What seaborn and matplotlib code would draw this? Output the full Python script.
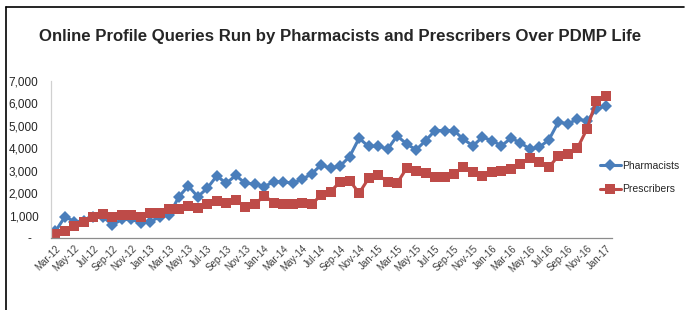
import matplotlib
matplotlib.use("Agg")
import matplotlib.pyplot as plt
from matplotlib.lines import Line2D
import seaborn as sns
import pandas as pd

# monthly values, Mar-12 .. Jan-17
months = pd.date_range("2012-03-01", periods=59, freq="MS").strftime("%b-%y").tolist()

pharmacists = [300, 950, 730, 750, 950, 950, 580, 830, 830, 680,
               730, 950, 1030, 1840, 2320, 1840, 2220, 2770, 2440, 2790,
               2440, 2410, 2290, 2510, 2510, 2440, 2620, 2860, 3260, 3110,
               3210, 3630, 4450, 4080, 4110, 3960, 4550, 4200, 3930, 4340,
               4790, 4790, 4790, 4400, 4110, 4500, 4340, 4110, 4450, 4250,
               3960, 4050, 4380, 5170, 5090, 5300, 5220, 5740, 5890]

prescribers = [200, 330, 540, 710, 920, 1070, 920, 1030, 1030, 950,
               1100, 1100, 1280, 1280, 1430, 1350, 1500, 1640, 1540, 1690,
               1400, 1500, 1880, 1580, 1500, 1500, 1550, 1500, 1920, 2070,
               2510, 2560, 2000, 2660, 2810, 2510, 2440, 3110, 2990, 2890,
               2740, 2740, 2870, 3160, 2960, 2770, 2960, 3000, 3070, 3300,
               3560, 3410, 3160, 3660, 3750, 4000, 4850, 6130, 6350]

y_ticks = [0, 1000, 2000, 3000, 4000, 5000, 6000, 7000]
y_labels = ["-  ", "1,000", "2,000", "3,000", "4,000", "5,000", "6,000", "7,000"]

df = pd.DataFrame({"idx": range(len(months)),
                   "Pharmacists": pharmacists,
                   "Prescribers": prescribers})

sns.set_style("white")
plt.rcParams["font.family"] = ["Liberation Sans", "DejaVu Sans"]

fig = plt.figure(figsize=(6.85, 3.1), dpi=100)
ax = fig.add_axes([51 / 685, 1 - 238 / 310, (612 - 51) / 685, (238 - 81) / 310])

sns.lineplot(data=df, x="idx", y="Pharmacists", ax=ax, color="#4A7EBB",
             marker="D", markersize=6, markeredgewidth=0, linewidth=2.2,
             label="Pharmacists")
sns.lineplot(data=df, x="idx", y="Prescribers", ax=ax, color="#BE4B48",
             marker="s", markersize=7, markeredgewidth=0, linewidth=2.2,
             label="Prescribers")

ax.set_xlim(-0.47, 58.65)
ax.set_ylim(0, 7000)
ax.set_yticks(y_ticks)
ax.set_yticklabels(y_labels, fontsize=8.5)
ax.set_xticks(range(0, len(months), 2))
ax.set_xticklabels(months[::2], rotation=45, ha="right", rotation_mode="anchor",
                   fontsize=7, color="#404040")
ax.tick_params(axis="x", length=0, pad=4)
ax.tick_params(axis="y", length=0, pad=9)
ax.set_xlabel("")
ax.set_ylabel("")

for s in ["top", "right"]:
    ax.spines[s].set_visible(False)
ax.spines["bottom"].set_color("#8c8c8c")
ax.spines["bottom"].set_linewidth(0.9)
ax.spines["left"].set_color("#d0d0d0")
ax.spines["left"].set_linewidth(0.9)

ax.legend(loc="center left", bbox_to_anchor=(600 / 685, 1 - 177.5 / 310),
          bbox_transform=fig.transFigure, frameon=False, fontsize=7.5,
          handlelength=2.0, handletextpad=0.1, labelspacing=1.3, borderpad=0,
          borderaxespad=0)

fig.text(0.497, 1 - 37 / 310,
         "Online Profile Queries Run by Pharmacists and Prescribers Over PDMP Life",
         ha="center", va="center", fontsize=12.1, fontweight="bold")

# chart frame
fig.add_artist(Line2D([6 / 685, 6 / 685], [0, 1 - 7 / 310], color="black", lw=1.2))
fig.add_artist(Line2D([6 / 685, 684 / 685], [1 - 7 / 310, 1 - 7 / 310], color="black", lw=1.2))

fig.savefig("out.png", dpi=100)
